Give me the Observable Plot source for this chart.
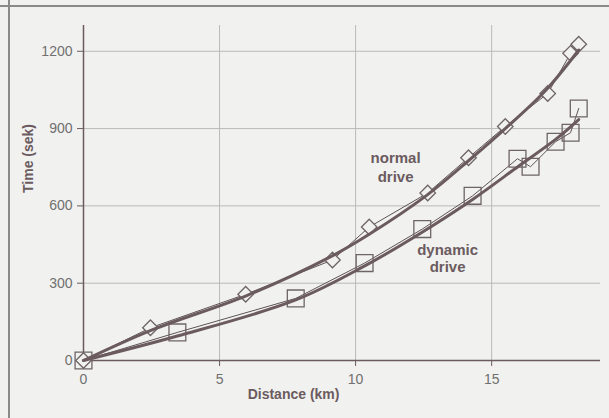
<!DOCTYPE html>
<html><head><meta charset="utf-8">
<script src="https://cdn.jsdelivr.net/npm/d3@7"></script>
<script src="https://cdn.jsdelivr.net/npm/@observablehq/plot@0.6"></script>
<style>
html,body{margin:0;padding:0;background:#f1f1ef;}
#chart{position:relative;width:609px;height:418px;overflow:hidden;}
#chart .bl{position:absolute;left:8px;top:0;width:1.5px;height:418px;background:#8a8a8a;}
#chart .bt{position:absolute;left:0;top:5px;width:609px;height:1.5px;background:#8a8a8a;}
#chart svg{position:absolute;left:0;top:0;}
</style></head><body><div id="chart"><div class="bl"></div><div class="bt"></div></div>
<script>
// normal drive measurements (diamonds)
const normalKm  = [0, 2.46, 5.96, 9.15, 10.5, 12.65, 14.15, 15.5, 17.06, 17.9, 18.2];
const normalSec = [0, 127, 257, 390, 518, 650, 787, 908, 1036, 1192, 1227];
// dynamic drive measurements (squares)
const dynKm  = [0, 3.45, 7.8, 10.33, 12.45, 14.3, 15.95, 16.43, 17.35, 17.9, 18.2];
const dynSec = [0, 109, 241, 378, 510, 639, 783, 752, 849, 884, 978];
// fitted curves
const normalFitKm  = [0, 2.5, 6, 9, 10.5, 12.6, 14.2, 15.5, 17, 18.2];
const normalFitSec = [0, 118, 252, 398, 490, 640, 780, 900, 1050, 1205];
const dynFitKm  = [0, 3.45, 7.8, 10.3, 12.4, 14.3, 16, 17.35, 18.2];
const dynFitSec = [0, 95, 235, 365, 495, 625, 755, 858, 935];
// axis ticks
const xTicks = [0, 5, 10, 15];
const yTicks = [0, 300, 600, 900, 1200];
// curve labels
const labelText = ["normal", "drive", "dynamic", "drive"];
const labelKm   = [11.47, 11.47, 13.38, 13.38];
const labelSec  = [785, 712, 428, 362];

const zip = (xs, ys) => xs.map((x, i) => ({x, y: ys[i]}));
const normal = zip(normalKm, normalSec);
const dyn = zip(dynKm, dynSec);
const normalFit = zip(normalFitKm, normalFitSec);
const dynFit = zip(dynFitKm, dynFitSec);
const labels = labelText.map((t, i) => ({t, x: labelKm[i], y: labelSec[i]}));

const ink = "#6b5b5f";
const bg = "#f1f1ef";
const font = "Liberation Sans, Arial, Helvetica, sans-serif";

const plot = Plot.plot({
  width: 609, height: 418,
  marginLeft: 83, marginRight: 9, marginTop: 25, marginBottom: 58,
  style: {background: "transparent", fontFamily: font, fontSize: "14px", color: "#707070", overflow: "visible"},
  x: {domain: [0, 19]},
  y: {domain: [0, 1300]},
  marks: [
    Plot.ruleY(yTicks.filter(d => d > 0), {stroke: "#b9b9b9", strokeWidth: 1}),
    Plot.ruleX(xTicks.filter(d => d > 0), {stroke: "#b9b9b9", strokeWidth: 1}),
    Plot.axisX({ticks: xTicks, tickFormat: d => String(d), tickSize: 6, tickPadding: 8, label: null, stroke: ink, fill: "#707070", fontSize: 14}),
    Plot.axisY({ticks: yTicks, tickFormat: d => String(d), tickSize: 6, tickPadding: 5, label: null, stroke: ink, fill: "#707070", fontSize: 14}),
    Plot.ruleY([0], {stroke: ink, strokeWidth: 1.5}),
    Plot.ruleX([0], {stroke: ink, strokeWidth: 1.5}),
    Plot.line(normal, {x: "x", y: "y", stroke: "#5e5456", strokeWidth: 1}),
    Plot.line(dyn, {x: "x", y: "y", stroke: "#5e5456", strokeWidth: 1}),
    Plot.dot(normal, {x: "x", y: "y", symbol: "diamond2", r: 7, stroke: "#6e6467", strokeWidth: 1.3, fill: bg}),
    Plot.dot(dyn, {x: "x", y: "y", symbol: "square", r: 9.5, stroke: "#6e6467", strokeWidth: 1.3, fill: "none"}),
    Plot.line(normalFit, {x: "x", y: "y", curve: "catmull-rom", stroke: ink, strokeWidth: 3}),
    Plot.line(dynFit, {x: "x", y: "y", curve: "catmull-rom", stroke: ink, strokeWidth: 3}),
    Plot.text(labels, {x: "x", y: "y", text: "t", fill: ink, fontWeight: "bold", fontSize: 15}),
    Plot.text(["Distance (km)"], {x: [7.72], frameAnchor: "bottom", dy: 38, fill: ink, fontWeight: "bold", fontSize: 14}),
    Plot.text(["Time (sek)"], {y: [650], frameAnchor: "left", dx: -55, rotate: -90, fill: ink, fontWeight: "bold", fontSize: 14})
  ]
});
document.getElementById("chart").appendChild(plot);
</script>
</body></html>
